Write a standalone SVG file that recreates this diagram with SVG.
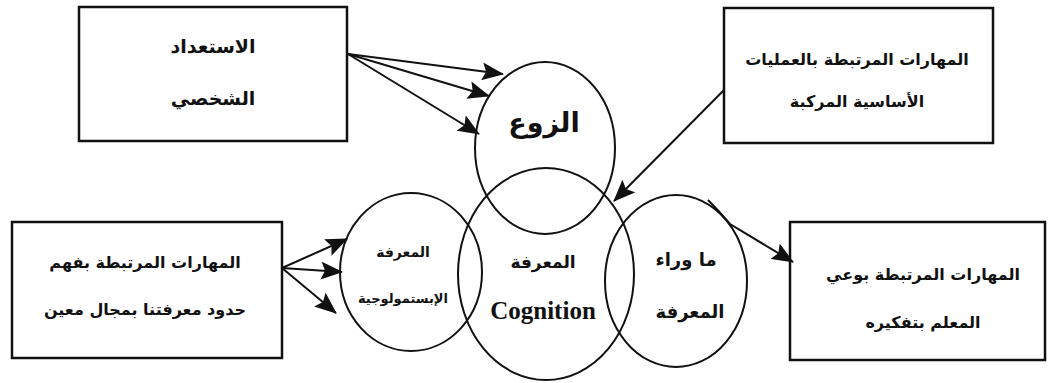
<svg xmlns="http://www.w3.org/2000/svg" width="1054" height="383" viewBox="0 0 1054 383">
<style>
.box{fill:#fff;stroke:#111;stroke-width:2.5}
.circ{fill:none;stroke:#111;stroke-width:2}
.ar{font-family:"DejaVu Sans",sans-serif;font-weight:bold;font-size:16px;fill:#111;text-anchor:middle;direction:rtl}
.en{font-family:"Liberation Serif",serif;font-weight:bold;font-size:25px;fill:#111;text-anchor:middle}
.conn{stroke:#111;stroke-width:2;fill:none;marker-end:url(#ah)}
</style>
<defs>
<marker id="ah" markerUnits="userSpaceOnUse" markerWidth="24" markerHeight="18" refX="21" refY="9" orient="auto">
<path d="M0,0 L22,9 L0,18 L4,9 Z" fill="#111"/>
</marker>
</defs>
<rect width="1054" height="383" fill="#fff"/>
<g id="box-personal">
<rect class="box" x="79" y="7" width="268" height="134"/>
<text class="ar" x="213" y="53" style="font-size:19px">الاستعداد</text>
<text class="ar" x="213" y="105" style="font-size:19px">الشخصي</text>
</g>
<g id="box-complex">
<rect class="box" x="724" y="8" width="269" height="135"/>
<text class="ar" x="857" y="65">المهارات المرتبطة بالعمليات</text>
<text class="ar" x="857" y="107">الأساسية المركبة</text>
</g>
<g id="box-limits">
<rect class="box" x="12" y="222" width="270" height="136"/>
<text class="ar" x="145" y="268">المهارات المرتبطة بفهم</text>
<text class="ar" x="145" y="315">حدود معرفتنا بمجال معين</text>
</g>
<g id="box-awareness">
<rect class="box" x="790" y="222" width="255" height="138"/>
<text class="ar" x="923" y="280">المهارات المرتبطة بوعي</text>
<text class="ar" x="923" y="328">المعلم بتفكيره</text>
</g>
<g id="circle-conation">
<ellipse class="circ" cx="545" cy="148" rx="70" ry="86"/>
<text class="ar" x="544" y="132" style="font-size:27px">الزوع</text>
</g>
<g id="circle-epistemic">
<ellipse class="circ" cx="411" cy="272" rx="71" ry="79"/>
<text class="ar" x="403" y="257" style="font-size:14px">المعرفة</text>
<text class="ar" x="403" y="303" style="font-size:13px">الإبستمولوجية</text>
</g>
<g id="circle-cognition">
<ellipse class="circ" cx="546" cy="274" rx="88" ry="106"/>
<text class="ar" x="543" y="268" style="font-size:17px">المعرفة</text>
<text class="en" x="543" y="319">Cognition</text>
</g>
<g id="circle-meta">
<ellipse class="circ" cx="676" cy="281" rx="71" ry="86"/>
<text class="ar" x="686" y="266" style="font-size:18px">ما وراء</text>
<text class="ar" x="690" y="318" style="font-size:18px">المعرفة</text>
</g>
<g id="connectors">
<line class="conn" x1="348" y1="54" x2="503" y2="74"/>
<line class="conn" x1="348" y1="54" x2="489" y2="96"/>
<line class="conn" x1="348" y1="54" x2="479" y2="134"/>
<line class="conn" x1="724" y1="90" x2="614" y2="201"/>
<line class="conn" x1="282" y1="268" x2="347" y2="239"/>
<line class="conn" x1="282" y1="268" x2="342" y2="272"/>
<line class="conn" x1="282" y1="268" x2="336" y2="313"/>
<path class="conn" d="M708,200 Q720,212 730,224 L793,262"/>
</g>
</svg>
